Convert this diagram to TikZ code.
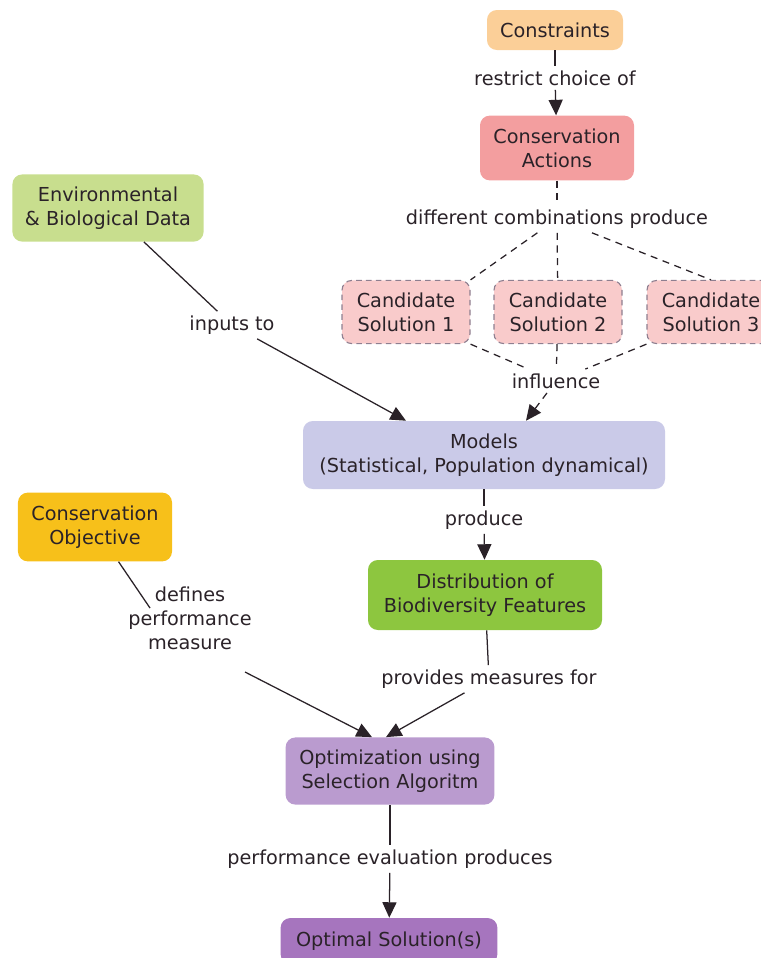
\documentclass[tikz,border=0pt]{standalone}
\usepackage{fontspec}
\setmainfont{DejaVu Sans}
\usepackage{xcolor}
\usetikzlibrary{positioning,arrows.meta}

\definecolor{constrfill}{HTML}{FBCF98}
\definecolor{actionfill}{HTML}{F39E9F}
\definecolor{candfill}{HTML}{F9CBCB}
\definecolor{candline}{HTML}{8E7F90}
\definecolor{datafill}{HTML}{C8DE8E}
\definecolor{modelfill}{HTML}{CACAE8}
\definecolor{objfill}{HTML}{F7C01A}
\definecolor{distfill}{HTML}{8DC63F}
\definecolor{optimfill}{HTML}{BA9BCF}
\definecolor{resultfill}{HTML}{A675BE}
\definecolor{ink}{HTML}{2A2228}

\begin{document}
\begin{tikzpicture}[
  concept/.style={
    rounded corners=7pt,
    align=center,
    fill=#1,
    text=ink,
    inner sep=2pt,
    font=\fontsize{13.7}{17}\selectfont
  },
  candidate/.style={
    concept=candfill,
    draw=candline,
    line width=0.8pt,
    dash pattern=on 4pt off 3pt,
    minimum width=3.2cm,
    minimum height=1.58cm
  },
  phrase/.style={align=center, text=ink, inner sep=3pt, font=\fontsize{13.7}{17}\selectfont},
  link/.style={line width=0.9pt, draw=ink},
  rel/.style={link, -{Triangle[width=10pt,length=11pt]}},
  dlink/.style={link, dash pattern=on 5pt off 4pt},
  drel/.style={rel, dash pattern=on 5pt off 4pt}
]
  \useasboundingbox (0,0) rectangle (19.025,-23.95);

  \node[concept=constrfill, minimum width=3.4cm, minimum height=1cm] (constraints) at (13.875,-0.75) {Constraints};
  \node[phrase] (restrict) at (13.875,-1.95) {restrict choice of};
  \node[concept=actionfill, minimum width=3.85cm, minimum height=1.62cm] (actions) at (13.925,-3.7) {Conservation\\Actions};
  \node[phrase] (combo) at (13.925,-5.475) {different combinations produce};
  \node[candidate] (cand1) at (10.15,-7.8) {Candidate\\Solution 1};
  \node[candidate] (cand2) at (13.95,-7.8) {Candidate\\Solution 2};
  \node[candidate] (cand3) at (17.775,-7.8) {Candidate\\Solution 3};
  \node[phrase] (infl) at (13.9,-9.525) {influence};

  \node[concept=datafill, minimum width=4.78cm, minimum height=1.68cm] (envdata) at (2.7,-5.2) {Environmental\\\& Biological Data};
  \node[phrase] (inputs) at (5.8,-8.125) {inputs to};
  \node[concept=modelfill, minimum width=9.05cm, minimum height=1.7cm] (models) at (12.1,-11.375) {Models\\(Statistical, Population dynamical)};
  \node[phrase] (produce) at (12.1,-13.0) {produce};
  \node[concept=distfill, minimum width=5.85cm, minimum height=1.75cm] (distrib) at (12.125,-14.875) {Distribution of\\Biodiversity Features};
  \node[phrase] (provides) at (12.225,-16.975) {provides measures for};

  \node[concept=objfill, minimum width=3.85cm, minimum height=1.72cm] (objective) at (2.375,-13.175) {Conservation\\Objective};
  \node[phrase] (defines) at (4.75,-15.45) {defines\\performance\\measure};

  \node[concept=optimfill, minimum width=5.22cm, minimum height=1.68cm] (optim) at (9.75,-19.275) {Optimization using\\Selection Algoritm};
  \node[phrase] (perfeval) at (9.75,-21.475) {performance evaluation produces};
  \node[concept=resultfill, minimum width=5.42cm, minimum height=1.15cm] (optimal) at (9.725,-23.525) {Optimal Solution(s)};

  \draw[link] (constraints) -- (restrict);
  \draw[rel] (restrict) -- (actions);
  \draw[dlink] (actions) -- (combo);
  \draw[dlink] (combo) -- (cand1.north east);
  \draw[dlink] (combo) -- (cand2);
  \draw[dlink] (combo) -- (cand3.north);
  \draw[dlink] (cand1.south east) -- (infl);
  \draw[dlink] (cand2) -- (infl);
  \draw[dlink] (cand3.south west) -- (infl);
  \draw[drel] (infl) -- ([xshift=1.05cm]models.north);

  \draw[link] (envdata) -- (inputs);
  \draw[rel] (inputs) -- ([xshift=-1.95cm]models.north);
  \draw[link] (models) -- (produce);
  \draw[rel] (produce) -- (distrib);
  \draw[link] (distrib) -- (provides);
  \draw[rel] (provides) -- ([xshift=-0.1cm]optim.north);
  \draw[link] (objective) -- ([xshift=-1cm,yshift=0.25cm]defines.center);
  \draw[rel] ([xshift=1.375cm,yshift=-1.35cm]defines.center) -- ([xshift=-0.45cm]optim.north);
  \draw[link] (optim) -- (perfeval);
  \draw[rel] (perfeval) -- (optimal);
\end{tikzpicture}
\end{document}
